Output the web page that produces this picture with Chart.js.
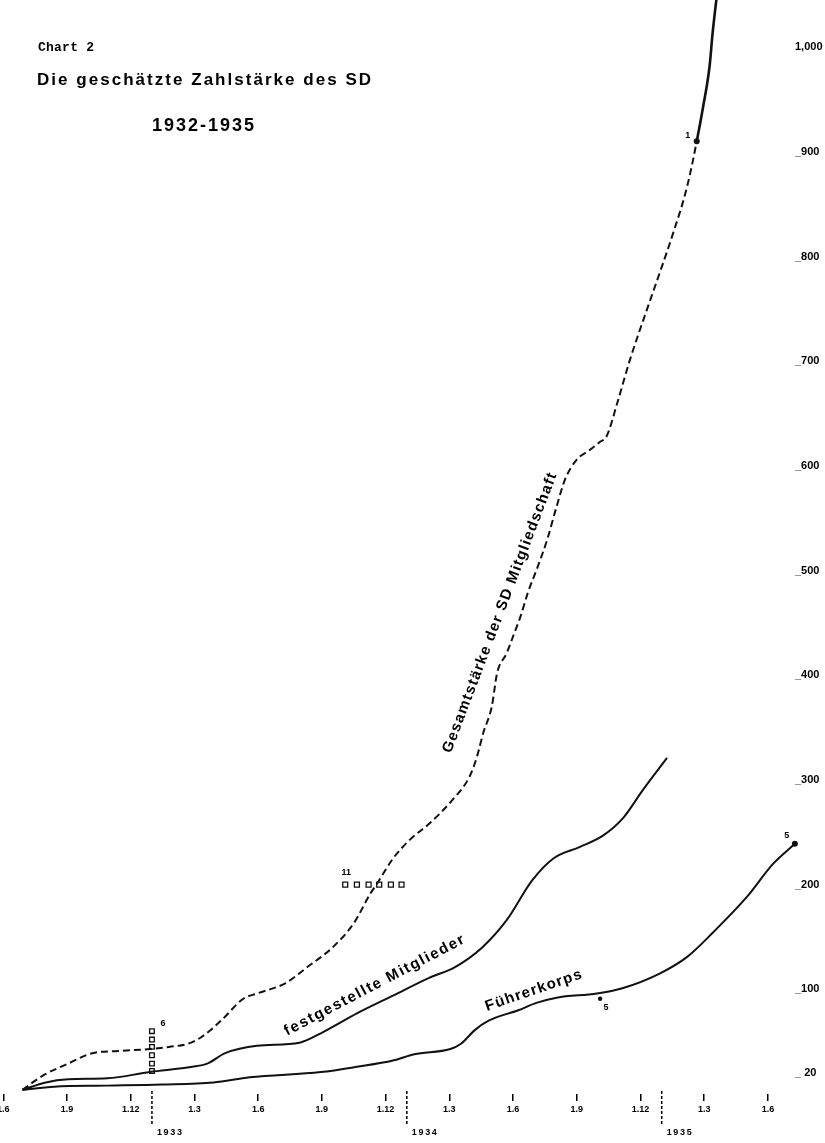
<!DOCTYPE html>
<html>
<head>
<meta charset="utf-8">
<script src="https://cdn.jsdelivr.net/npm/chart.js@4.4.1/dist/chart.umd.min.js"></script>
<style>
  html, body { margin: 0; padding: 0; background: #fff; }
  #wrap { width: 825px; height: 1143px; }
</style>
</head>
<body>
<div id="wrap"><canvas id="chart" width="825" height="1143"></canvas></div>
<script>
// Monate gezählt ab 1.1.1932 (5 = 1.6.1932, 12 = 1.1.1933 ...)
var tickMonths = [5, 8, 11, 14, 17, 20, 23, 26, 29, 32, 35, 38, 41];
var tickLabels = ['1.6', '1.9', '1.12', '1.3', '1.6', '1.9', '1.12', '1.3', '1.6', '1.9', '1.12', '1.3', '1.6'];
var yearMonths = [12, 24, 36];
var yearLabels = ['1933', '1934', '1935'];
var yTicks = [20, 100, 200, 300, 400, 500, 600, 700, 800, 900, 1000];
var yLabels = ['_ 20', '_100', '_200', '_300', '_400', '_500', '_600', '_700', '_800', '_900', '1,000'];

var seriesNames = ['Gesamtstärke der SD Mitgliedschaft', 'festgestellte Mitglieder', 'Führerkorps'];

// Gesamtstärke (gestrichelt bis Punkt 1, danach durchgezogen)
var gesamtMonths = [5.9, 6.9, 8.05, 9.2, 10.4, 11.9, 12.8, 13.7, 14.3, 15.25, 16.3, 16.95, 18.3, 19.3, 20.5, 21.5, 22.3, 22.6, 23.35, 24.15,
                    25.1, 26.15, 26.95, 27.3, 27.6, 28.0, 28.25, 28.7, 29.0, 29.35, 29.7, 30.15, 30.6, 31.05, 31.45, 32.0, 32.6, 33.1, 33.4, 33.95,
                    34.5, 35.3, 35.9, 36.55, 37.2, 37.65, 37.95, 38.25, 38.4, 38.6];
var gesamtValues = [4, 18, 29, 39, 41, 43, 45, 48, 54, 70, 91, 96, 106, 121, 140, 163, 192, 201, 225, 243,
                    259, 281, 303, 322, 345, 370, 402, 421, 437, 456, 479, 503, 529, 561, 587, 606, 615, 623, 628, 663,
                    701, 749, 784, 823, 867, 910, 943, 981, 1014, 1050];
var noteOneIndex = 45;

var festMonths = [5.9, 7.0, 8.05, 9.9, 11.9, 13.9, 14.6, 15.45, 16.95, 18.95, 19.95, 21.65, 23.35, 25.05, 26.25, 27.55, 28.7, 29.9, 30.9, 32.15, 33.25, 34.2, 35.1, 36.25];
var festValues = [4, 11, 14, 15, 21, 26, 29, 39, 46, 49, 58, 77, 94, 111, 121, 140, 166, 204, 225, 236, 247, 264, 290, 321];

var fuehrerMonths = [5.9, 7.4, 9.9, 12.45, 14.9, 16.6, 19.95, 21.65, 23.35, 24.35, 26.05, 26.55, 27.2, 27.85, 29.25, 30.1, 31.05, 32.95, 34.15, 35.9, 37.2, 38.4, 40.0, 41.25, 42.27];
var fuehrerValues = [4, 7, 8, 9, 11, 16, 21, 26, 32, 38, 43, 48, 61, 70, 80, 87, 92, 96, 101, 115, 131, 154, 188, 220, 239];

// Kästchen (Anm. 6 und 11) und Einzelpunkt (Anm. 5)
var squares6Months = [12, 12, 12, 12, 12, 12];
var squares6Values = [22, 29, 37, 45, 52, 60];
var squares11Months = [21.1, 21.65, 22.2, 22.7, 23.25, 23.75];
var squares11Values = [200, 200, 200, 200, 200, 200];
var note5Months = [33.1];
var note5Values = [91];

function pts(xs, ys) {
    return xs.map(function (m, i) { return { x: m, y: ys[i] }; });
}

function drawFit(ctx, text, x, y, angle, len, font, align) {
    ctx.save();
    ctx.translate(x, y);
    ctx.rotate(angle * Math.PI / 180);
    ctx.font = font;
    ctx.textBaseline = 'middle';
    ctx.textAlign = align;
    var w = ctx.measureText(text).width;
    if ('letterSpacing' in ctx) {
        ctx.letterSpacing = ((len - w) / (text.length - 1)).toFixed(2) + 'px';
    } else {
        ctx.scale(len / w, 1);
    }
    ctx.fillText(text, 0, 0);
    ctx.restore();
}

var notesPlugin = {
    id: 'notes',
    afterDatasetsDraw: function (chart) {
        var ctx = chart.ctx;
        var x = chart.scales.x, y = chart.scales.y;
        ctx.save();
        ctx.fillStyle = '#000';
        ctx.strokeStyle = '#000';

        // Überschrift
        drawFit(ctx, 'Chart 2', 38, 48, 0, 56, 'bold 13px "Liberation Mono"', 'left');
        drawFit(ctx, 'Die geschätzte Zahlstärke des SD', 37, 80, 0, 334, 'bold 17px "Liberation Sans"', 'left');
        drawFit(ctx, '1932-1935', 152, 126, 0, 102, 'bold 18px "Liberation Sans"', 'left');

        // Beschriftung an den Kurven
        drawFit(ctx, seriesNames[0], x.getPixelForValue(28.39), y.getPixelForValue(460), -69.2, 298, 'bold 15px "Liberation Sans"', 'center');
        drawFit(ctx, seriesNames[1], x.getPixelForValue(22.5), y.getPixelForValue(104), -27.6, 201, 'bold 15px "Liberation Sans"', 'center');
        drawFit(ctx, seriesNames[2], x.getPixelForValue(29.99), y.getPixelForValue(99), -19, 101, 'bold 15px "Liberation Sans"', 'center');

        // Anmerkungsziffern
        ctx.font = 'bold 9px "Liberation Sans"';
        ctx.textAlign = 'center';
        ctx.textBaseline = 'middle';
        var p1 = chart.getDatasetMeta(0).data[noteOneIndex];
        ctx.fillText('1', p1.x - 9, p1.y - 6);
        var f = chart.getDatasetMeta(2).data;
        var pEnd = f[f.length - 1];
        ctx.fillText('5', pEnd.x - 8, pEnd.y - 8);
        var p5 = chart.getDatasetMeta(5).data[0];
        ctx.fillText('5', p5.x + 6, p5.y + 9);
        var s6 = chart.getDatasetMeta(3).data;
        var top6 = s6[s6.length - 1];
        ctx.fillText('6', top6.x + 11, top6.y - 8);
        var s11 = chart.getDatasetMeta(4).data[0];
        ctx.fillText('11', s11.x + 1, s11.y - 12);

        // Jahrestrennlinien
        yearMonths.forEach(function (m, i) {
            var px = x.getPixelForValue(m);
            ctx.save();
            ctx.setLineDash([3, 2]);
            ctx.lineWidth = 1.5;
            ctx.beginPath();
            ctx.moveTo(px, y.bottom - 3);
            ctx.lineTo(px, y.bottom + 32);
            ctx.stroke();
            ctx.restore();
            drawFit(ctx, yearLabels[i], px + 5, y.bottom + 39, 0, 25, 'bold 9px "Liberation Sans"', 'left');
        });
        ctx.restore();
    }
};

var ctx = document.getElementById('chart').getContext('2d');
var chart = new Chart(ctx, {
    type: 'line',
    data: {
        datasets: [{
            label: seriesNames[0],
            data: pts(gesamtMonths, gesamtValues),
            borderColor: '#111',
            borderWidth: 2,
            borderDash: [7, 4],
            segment: {
                borderDash: function (c) { return c.p0DataIndex >= noteOneIndex ? [] : [7, 4]; },
                borderWidth: function (c) { return c.p0DataIndex >= noteOneIndex ? 2.6 : 2; }
            },
            pointRadius: function (c) { return c.dataIndex === noteOneIndex ? 3 : 0; },
            pointBackgroundColor: '#111',
            pointBorderWidth: 0,
            cubicInterpolationMode: 'monotone',
            clip: false
        }, {
            label: seriesNames[1],
            data: pts(festMonths, festValues),
            borderColor: '#111',
            borderWidth: 2,
            pointRadius: 0,
            cubicInterpolationMode: 'monotone',
            clip: false
        }, {
            label: seriesNames[2],
            data: pts(fuehrerMonths, fuehrerValues),
            borderColor: '#111',
            borderWidth: 2,
            pointRadius: function (c) { return c.dataIndex === fuehrerMonths.length - 1 ? 3 : 0; },
            pointBackgroundColor: '#111',
            pointBorderWidth: 0,
            cubicInterpolationMode: 'monotone',
            clip: false
        }, {
            label: 'Anm. 6',
            data: pts(squares6Months, squares6Values),
            showLine: false,
            pointStyle: 'rect',
            pointRadius: 3.3,
            pointBackgroundColor: '#fff',
            pointBorderColor: '#111',
            pointBorderWidth: 1.3
        }, {
            label: 'Anm. 11',
            data: pts(squares11Months, squares11Values),
            showLine: false,
            pointStyle: 'rect',
            pointRadius: 3.5,
            pointBackgroundColor: '#fff',
            pointBorderColor: '#111',
            pointBorderWidth: 1.3
        }, {
            label: 'Anm. 5',
            data: pts(note5Months, note5Values),
            showLine: false,
            pointRadius: 2.2,
            pointBackgroundColor: '#111',
            pointBorderWidth: 0
        }]
    },
    options: {
        responsive: false,
        animation: false,
        layout: { padding: 0, autoPadding: false },
        plugins: {
            legend: { display: false },
            tooltip: { enabled: false }
        },
        scales: {
            x: {
                type: 'linear',
                min: 4.846,
                max: 42.276,
                afterBuildTicks: function (s) {
                    s.ticks = tickMonths.map(function (v) { return { value: v }; });
                },
                ticks: {
                    autoSkip: false,
                    maxRotation: 0,
                    padding: 3,
                    color: '#000',
                    font: { family: 'Liberation Sans', weight: 'bold', size: 9 },
                    callback: function (v, i) { return tickLabels[i]; }
                },
                grid: { drawOnChartArea: false, drawTicks: true, tickLength: 7, color: '#000', lineWidth: 1.5 },
                border: { display: false },
                afterFit: function (s) {
                    s.height = 49;
                    s.paddingLeft = 0;
                    s.paddingRight = 0;
                }
            },
            y: {
                position: 'right',
                min: 0,
                max: 1045,
                afterBuildTicks: function (s) {
                    s.ticks = yTicks.map(function (v) { return { value: v }; });
                },
                ticks: {
                    autoSkip: false,
                    padding: 0,
                    color: '#000',
                    font: { family: 'Liberation Sans', weight: 'bold', size: 11 },
                    callback: function (v, i) { return yLabels[i]; }
                },
                grid: { display: false, drawTicks: false },
                border: { display: false },
                afterFit: function (s) {
                    s.width = 30;
                    s.paddingTop = 0;
                    s.paddingBottom = 0;
                }
            }
        }
    },
    plugins: [notesPlugin]
});
</script>
</body>
</html>
